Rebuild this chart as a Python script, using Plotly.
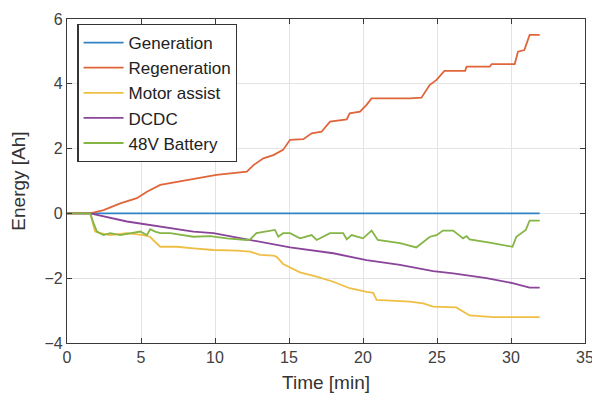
import plotly.graph_objects as go

# Time [min] and energy [Ah]
gen_t = [0, 31.94]
gen_e = [0, 0]

regen_t = [0, 1.57, 2.47, 3.6, 4.72, 5.4, 6.3, 7.42, 8.77, 10.1, 11.03, 12.15, 12.6, 13.27,
           13.94, 14.6, 15.07, 15.97, 16.53, 17.2, 17.77, 18.9, 19.1, 19.8, 20.24, 20.58,
           23.16, 23.95, 24.5, 24.97, 25.5, 26.9, 27.0, 28.56, 28.7, 30.25, 30.47, 30.9,
           31.26, 31.94]
regen_e = [0, 0, 0.10, 0.31, 0.47, 0.67, 0.88, 0.98, 1.08, 1.19, 1.24, 1.29, 1.49, 1.70,
           1.80, 1.96, 2.27, 2.29, 2.47, 2.52, 2.83, 2.90, 3.09, 3.14, 3.35, 3.55,
           3.55, 3.57, 3.96, 4.12, 4.40, 4.40, 4.53, 4.53, 4.61, 4.61, 4.99, 5.04,
           5.51, 5.51]

motor_t = [0, 1.57, 1.9, 2.25, 2.9, 4.05, 5.17, 5.6, 6.3, 7.42, 8.54, 9.9, 11.47, 12.37,
           13.04, 13.94, 14.17, 14.6, 15.74, 16.87, 17.99, 19.1, 20.24, 20.69, 20.92,
           23.16, 24.06, 24.74, 26.3, 27.2, 28.8, 31.94]
motor_e = [0, 0, -0.56, -0.61, -0.67, -0.61, -0.67, -0.72, -1.03, -1.03, -1.08, -1.13,
           -1.15, -1.18, -1.28, -1.30, -1.34, -1.56, -1.82, -1.95, -2.11, -2.31, -2.42,
           -2.45, -2.67, -2.72, -2.78, -2.88, -2.90, -3.15, -3.20, -3.20]

dcdc_t = [0, 1.57, 4.05, 6.3, 8.54, 9.9, 11.24, 13.04, 15.07, 17.99, 20.24, 22.5, 24.74,
          26.09, 28.34, 30.1, 31.26, 31.94]
dcdc_e = [0, 0, -0.25, -0.41, -0.56, -0.61, -0.72, -0.87, -1.05, -1.23, -1.44, -1.59,
          -1.78, -1.85, -2.00, -2.15, -2.29, -2.29]

batt_t = [0, 1.57, 1.8, 2.02, 2.47, 2.92, 3.6, 4.27, 4.95, 5.4, 5.62, 5.96, 6.3, 6.97,
          8.54, 9.67, 10.8, 12.15, 12.37, 12.8, 13.5, 14.05, 14.28, 14.6, 15.07, 15.74,
          16.53, 16.87, 17.77, 18.66, 18.9, 19.23, 20.0, 20.58, 21.0, 22.5, 23.6, 24.06,
          24.52, 24.97, 25.4, 26.09, 26.76, 27.0, 27.2, 28.56, 30.1, 30.36, 31.0, 31.26,
          31.94]
batt_e = [0, 0, -0.31, -0.56, -0.67, -0.61, -0.67, -0.61, -0.56, -0.67, -0.49, -0.56,
          -0.61, -0.61, -0.72, -0.70, -0.77, -0.82, -0.80, -0.61, -0.56, -0.51, -0.72,
          -0.61, -0.61, -0.77, -0.67, -0.82, -0.61, -0.61, -0.80, -0.67, -0.77, -0.53,
          -0.82, -0.92, -1.05, -0.87, -0.72, -0.67, -0.53, -0.53, -0.77, -0.70, -0.80,
          -0.90, -1.03, -0.72, -0.51, -0.22, -0.22]

series = [
    ("Generation", gen_t, gen_e, "#2f84c8"),
    ("Regeneration", regen_t, regen_e, "#e0653a"),
    ("Motor assist", motor_t, motor_e, "#efbe45"),
    ("DCDC", dcdc_t, dcdc_e, "#8a449a"),
    ("48V Battery", batt_t, batt_e, "#84b545"),
]

x_ticks = [0, 5, 10, 15, 20, 25, 30, 35]
y_ticks = [-4, -2, 0, 2, 4, 6]

fig = go.Figure()
for name, t, e, c in series:
    fig.add_trace(go.Scatter(x=t, y=e, mode="lines", name=name,
                             line=dict(color=c, width=1.8)))

axis_common = dict(
    showline=True, linecolor="#3a3a3a", linewidth=1.3, mirror="ticks",
    ticks="inside", ticklen=5, tickcolor="#3a3a3a", tickwidth=1,
    showgrid=True, gridcolor="#e3e3e3", gridwidth=1, zeroline=False,
    automargin=False,
    tickfont=dict(family="Liberation Sans, Arial", size=16, color="#404040"),
)

# the page body adds an 8 px offset, so the figure is sized to fit the window
fig.update_layout(
    width=592, height=387,
    margin=dict(l=59, r=15, t=11, b=52),
    paper_bgcolor="white", plot_bgcolor="white",
    font=dict(family="Liberation Sans, Arial", color="#333333"),
    xaxis=dict(range=[0, 35], tickvals=x_ticks,
               title=dict(text="Time [min]", font=dict(size=19, color="#333333"), standoff=10),
               **axis_common),
    yaxis=dict(range=[-4, 6], tickvals=y_ticks,
               title=dict(text="Energy [Ah]", font=dict(size=19, color="#333333"), standoff=18),
               **axis_common),
    legend=dict(x=0.02, y=0.985, xanchor="left", yanchor="top",
                bgcolor="white", bordercolor="#333333", borderwidth=1.2,
                font=dict(family="Liberation Sans, Arial", size=17, color="#222222"),
                itemwidth=40, tracegroupgap=0),
    showlegend=True,
)

fig.write_html("out.html")
